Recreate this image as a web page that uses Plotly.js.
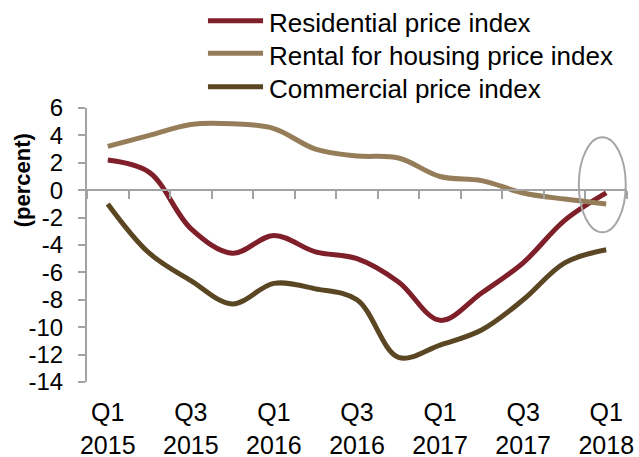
<!DOCTYPE html>
<html>
<head>
<meta charset="utf-8">
<script src="https://cdn.plot.ly/plotly-3.0.1.min.js"></script>
<style>html,body{margin:0;padding:0;background:#fff;}#chart{width:639px;height:457px;}</style>
</head>
<body>
<div id="chart"></div>
<script>
// Data
const quarters = ["Q1 2015","Q2 2015","Q3 2015","Q4 2015","Q1 2016","Q2 2016","Q3 2016","Q4 2016","Q1 2017","Q2 2017","Q3 2017","Q4 2017","Q1 2018"];
const tickLabels = ["Q1<br>2015","Q3<br>2015","Q1<br>2016","Q3<br>2016","Q1<br>2017","Q3<br>2017","Q1<br>2018"];
const tickQuarters = ["Q1 2015","Q3 2015","Q1 2016","Q3 2016","Q1 2017","Q3 2017","Q1 2018"];
const seriesNames = ["Residential price index","Rental for housing price index","Commercial price index"];
const residential = [2.2, 1.3, -2.8, -4.6, -3.3, -4.5, -5.0, -6.7, -9.5, -7.5, -5.3, -2.2, -0.2];
const rental      = [3.2, 4.0, 4.8, 4.85, 4.5, 3.0, 2.5, 2.35, 1.0, 0.7, -0.2, -0.65, -1.0];
const commercial  = [-1.0, -4.6, -6.6, -8.3, -6.8, -7.2, -8.0, -12.2, -11.3, -10.2, -8.0, -5.3, -4.35];
const colors = ["#7e1f29", "#967d5a", "#5b4624"];
const yTicks = [-14,-12,-10,-8,-6,-4,-2,0,2,4,6];

const font = "Liberation Sans, Arial, sans-serif";
const axisGray = "#a3a3a3";

const seriesVals = [residential, rental, commercial];
const traces = seriesVals.map((vals, k) => ({
  x: quarters, y: vals, type: "scatter", mode: "lines", name: seriesNames[k],
  line: {color: colors[k], width: 5, shape: "spline", smoothing: 1},
  hoverinfo: "skip", showlegend: false
}));
// label axis carrier (invisible)
traces.push({x: tickQuarters, y: tickQuarters.map(() => null), xaxis: "x2", type: "scatter", mode: "none", showlegend: false, hoverinfo: "skip"});

// custom legend
const legRows = [1.3186, 1.1996, 1.0777];
const shapes = [];
const annotations = [];
seriesNames.forEach((n, k) => {
  shapes.push({type: "line", xref: "paper", yref: "paper", x0: 0.224, x1: 0.326, y0: legRows[k], y1: legRows[k],
    line: {color: colors[k], width: 5}});
  annotations.push({xref: "paper", yref: "paper", x: 0.333, y: legRows[k] - 0.008, xanchor: "left", yanchor: "middle",
    text: n, showarrow: false, font: {family: font, size: 26, color: "#000"}});
});
// ellipse highlight
shapes.push({type: "circle", xref: "x", yref: "y", x0: 11.34, x1: 12.47, y0: -3.07, y1: 3.87,
  line: {color: "#a6a6a6", width: 2}, fillcolor: "rgba(0,0,0,0)"});
// y axis title
annotations.push({xref: "paper", yref: "paper", x: -0.12, y: 0.737, xanchor: "center", yanchor: "middle",
  text: "<b>(percent)</b>", textangle: -90, showarrow: false, font: {family: font, size: 22, color: "#000"}});

const layout = {
  width: 639, height: 457,
  margin: {l: 87, r: 12, t: 108, b: 75, pad: 0},
  paper_bgcolor: "#fff", plot_bgcolor: "#fff",
  showlegend: false,
  font: {family: font, color: "#000"},
  xaxis: {
    type: "category", categoryorder: "array", categoryarray: quarters,
    range: [-0.5, 12.5], anchor: "free", position: 0.7,
    showline: true, linecolor: axisGray, linewidth: 2,
    ticks: "outside", tickson: "boundaries", ticklen: 8, tickwidth: 2, tickcolor: axisGray,
    showticklabels: false, showgrid: false, zeroline: false, fixedrange: true
  },
  xaxis2: {
    type: "category", categoryorder: "array", categoryarray: quarters,
    range: [-0.5, 12.5], overlaying: "x", anchor: "y", side: "bottom",
    tickvals: tickQuarters, ticktext: tickLabels,
    showline: false, ticks: "", showgrid: false, zeroline: false,
    tickfont: {family: font, size: 25, color: "#000"}, ticklabelstandoff: 13
  },
  yaxis: {
    range: [-14, 6], tickvals: yTicks, ticktext: yTicks.map(String),
    showline: true, linecolor: axisGray, linewidth: 2,
    ticks: "outside", ticklen: 7, tickwidth: 2, tickcolor: axisGray,
    showgrid: false, zeroline: false,
    tickfont: {family: font, size: 24, color: "#000"}, ticklabelstandoff: 10
  },
  shapes: shapes,
  annotations: annotations
};

Plotly.newPlot("chart", traces, layout, {displayModeBar: false, staticPlot: true});
</script>
</body>
</html>
